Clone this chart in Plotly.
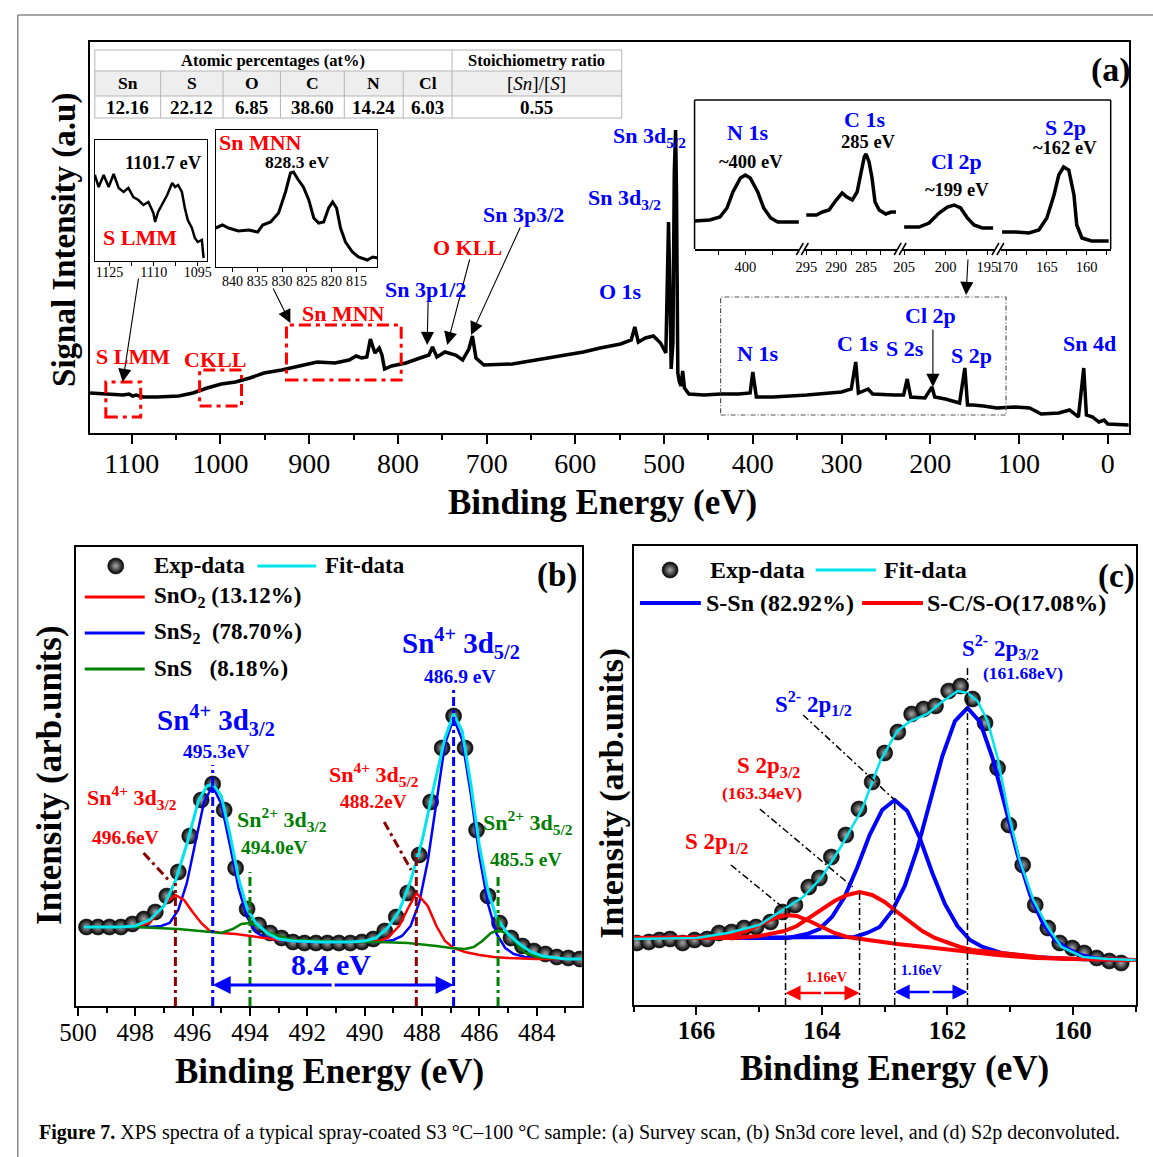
import plotly.graph_objects as go

W, H = 1153, 1157
FONT = "Liberation Serif"
BLUE, RED, GREEN, CYAN, MAROON = "#0000FF", "#FF0000", "#008000", "#00E5EE", "#8B0000"

# ---------------- panel (a): survey spectrum ----------------
survey_be = [1147, 1127, 1110, 1103, 1099, 1095, 1087, 1071, 1047, 1031,
             1015, 999, 983, 967, 951, 931, 911, 891, 871, 855,
             847, 841, 835, 831, 826, 821, 818, 815, 807, 791,
             775, 765, 761, 756, 747, 735, 727, 720, 716, 712,
             703, 671, 631, 591, 572, 549, 537, 533, 529, 521,
             512, 504, 498, 496, 495, 494, 492, 490, 488.5, 487,
             486, 484.5, 483, 481, 479, 477, 472, 455, 436, 416,
             403, 400, 396, 377, 339, 300, 289, 284, 281, 270,
             265, 241, 230, 226, 222, 206, 198, 195, 183, 167,
             161, 158, 152, 140, 125, 105, 88, 75, 55, 43,
             33, 27, 24, 17, 10, 4, 0, -24]
survey_int = [40, 39, 38, 39, 37, 38, 36, 36, 37, 40,
              45, 49, 51, 55, 60, 63, 67, 71, 70, 73,
              77, 75, 76, 94, 80, 85, 78, 64, 67, 70,
              75, 78, 86, 76, 81, 78, 73, 84, 97, 75,
              68, 69, 75, 81, 85, 89, 93, 106, 91, 95,
              97, 90, 80, 160, 211, 170, 64, 90, 260, 303,
              240, 60, 52, 47, 62, 45, 39, 38, 39, 39,
              40, 61, 36, 36, 38, 41, 44, 71, 40, 44,
              39, 38, 38, 54, 36, 35, 46, 36, 34, 30,
              65, 28, 28, 27, 25, 26, 25, 19, 20, 23,
              16, 65, 18, 16, 11, 13, 9, 8]

# inset: S LMM
slmm_be = [1130, 1128.7, 1127, 1125.3, 1123.6, 1121.9, 1120.2, 1118.6, 1116.9, 1115.2,
           1113.5, 1111.8, 1110.1, 1109.5, 1108.5, 1106.8, 1105.4, 1103.7, 1102.7, 1101.7,
           1100.4, 1099.4, 1098.4, 1097, 1096, 1095, 1093.6, 1093.3, 1093]
slmm_int = [86, 74, 86, 74, 87, 73, 69, 73, 64, 61,
            56, 59, 48, 39, 49, 59, 66, 78, 74, 76,
            69, 53, 41, 33, 23, 19, 21, 11, 3]
slmm_ticks = [1125, 1117.5, 1110, 1102.5, 1095]
slmm_ticklabels = ["1125", "", "1110", "", "1095"]

# inset: Sn MNN
snmnn_be = [843.4, 842.0, 840.8, 838.8, 836.7, 834.9, 833.9, 832.3, 830.7, 829.3,
            828.3, 827.7, 826.7, 825.7, 824.6, 823.6, 822.6, 821.6, 820.6, 819.8,
            819.0, 818.2, 817.2, 815.8, 814.6, 812.8, 811.7, 810.7]
snmnn_int = [39, 42, 39, 36, 37, 35, 42, 45, 54, 75,
             94, 95, 87, 80, 67, 49, 44, 45, 59, 65,
             59, 39, 25, 15, 10, 7, 10, 9]
snmnn_ticks = [840, 835, 830, 825, 820, 815]

# inset: high-resolution windows (broken axis)
n1s_be = [409.4, 406.6, 404.7, 403.4, 402.3, 400.9, 400.0, 399.1, 397.7, 396.6, 395.3, 394.0, 392.1, 390.1]
n1s_int = [28, 29, 32, 41, 57, 71, 74, 71, 57, 41, 31, 27, 27, 27]
c1s_be = [295.0, 293.3, 292.3, 291.2, 290.0, 289.0, 288.2, 287.3, 286.5, 285.8,
          285.3, 285.0, 284.5, 284.0, 283.5, 282.8, 281.7, 280.8, 280.0]
c1s_int = [34, 34, 37, 39, 49, 56, 52, 49, 57, 77, 92, 95, 87, 71, 47, 39, 35, 37, 37]
cl2p_be = [205.0, 203.2, 202.0, 200.8, 199.8, 199.0, 198.2, 197.4, 196.6, 195.6, 194.3]
cl2p_int = [22, 22, 26, 36, 42, 44, 41, 31, 24, 21, 21]
s2p_be = [170.6, 168.9, 167.25, 166.0, 165.0, 164.1, 163.5, 162.9, 162.25, 161.6, 161.25, 160.6, 159.4, 157.25]
s2p_int = [17, 17, 16, 19, 31, 54, 74, 82, 79, 54, 24, 11, 8, 8]
seg_ticks = [[405, 400, 395], [295, 292.5, 290, 287.5, 285, 282.5],
             [205, 202.5, 200, 197.5, 195], [170, 167.5, 165, 162.5, 160, 157.5]]
seg_ticklabels = [["", "400", ""], ["295", "", "290", "", "285", ""],
                  ["205", "", "200", "", "195"], ["170", "", "165", "", "160", ""]]

# table
table_elements = ["Sn", "S", "O", "C", "N", "Cl"]
table_atomic = ["12.16", "22.12", "6.85", "38.60", "14.24", "6.03"]
table_ratio = "0.55"

# ---------------- panel (b): Sn 3d ----------------
exp_b_be = [499.7, 499.3, 498.9, 498.5, 498.1, 497.7, 497.3, 496.9, 496.5, 496.1,
            495.7, 495.3, 494.9, 494.5, 494.1, 493.7, 493.3, 492.9, 492.5, 492.1,
            491.7, 491.3, 490.9, 490.5, 490.1, 489.7, 489.3, 488.9, 488.5, 488.1,
            487.7, 487.3, 486.9, 486.5, 486.1, 485.7, 485.3, 484.9, 484.5, 484.1,
            483.7, 483.3, 482.9, 482.5]
exp_b_int = [79, 79, 79, 79, 82, 87, 94, 110, 134, 170,
             206, 222, 196, 138, 97, 81, 73, 68, 64, 63,
             63, 63, 63, 63, 64, 67, 75, 89, 113, 151,
             204, 258, 290, 258, 176, 110, 83, 68, 60, 55,
             52, 49, 48, 47]
fit_b_be = [499.8, 498.5, 498.0, 497.5, 497.0, 496.6, 496.2, 495.8, 495.5, 495.3,
            495.0, 494.7, 494.4, 494.1, 493.8, 493.4, 493.0, 492.5, 491.5, 490.5,
            490.0, 489.6, 489.2, 488.8, 488.4, 488.0, 487.6, 487.2, 486.9, 486.6,
            486.3, 486.0, 485.7, 485.4, 485.0, 484.6, 484.2, 483.8, 483.0, 482.4]
fit_b_int = [79, 79, 80, 86, 100, 125, 162, 205, 220, 222,
             210, 172, 128, 97, 83, 73, 67, 65, 64, 64,
             65, 68, 78, 95, 125, 165, 218, 268, 292, 275,
             222, 160, 115, 88, 72, 62, 54, 50, 47, 47]
sns2_be = [499.8, 498.5, 497.5, 497.1, 496.8, 496.5, 496.2, 495.9, 495.6, 495.3,
           495.0, 494.7, 494.4, 494.1, 493.8, 493.5, 493.1, 492.0, 491.0, 490.0,
           489.4, 489.0, 488.7, 488.4, 488.1, 487.8, 487.5, 487.2, 486.9, 486.6,
           486.3, 486.0, 485.7, 485.4, 485.1, 484.8, 484.4, 483.5, 482.4]
sns2_int = [79, 79, 79, 80, 83, 96, 123, 164, 204, 220,
            202, 161, 118, 89, 74, 69, 66, 64, 64, 64,
            64, 66, 70, 80, 103, 145, 205, 262, 288, 266,
            212, 150, 102, 72, 58, 52, 49, 47, 47]
sno2_be = [499.8, 498.5, 498.0, 497.5, 497.2, 496.9, 496.6, 496.3, 496.0, 495.7,
           495.4, 495.0, 494.5, 494.0, 493.0, 492.0, 491.0, 490.0, 489.5, 489.2,
           488.8, 488.5, 488.2, 487.8, 487.5, 487.2, 486.9, 486.5, 486.0, 485.5,
           485.0, 484.0, 483.0, 482.4]
sno2_int = [79, 79, 79, 83, 93, 104, 111, 106, 94, 83,
            75, 73, 72, 70, 66, 65, 64, 64, 65, 68,
            80, 97, 113, 100, 80, 65, 58, 54, 51, 49,
            48, 47, 47, 47]
sns_be = [499.8, 498.0, 496.5, 495.5, 495.0, 494.6, 494.3, 494.0, 493.7, 493.4,
          493.0, 492.5, 491.5, 490.5, 489.5, 488.5, 487.5, 487.0, 486.5, 486.2,
          485.9, 485.6, 485.35, 485.0, 484.7, 484.4, 484.0, 483.0, 482.4]
sns_int = [79, 79, 77, 74, 73, 77, 82, 83, 80, 74,
           70, 66, 65, 64, 64, 63, 60, 58, 57, 59,
           65, 73, 76, 72, 62, 53, 49, 47, 47]
b_mark_be = [496.6, 495.3, 494.0, 488.2, 486.9, 485.35]
b_mark_top = [123, 241, 134, 159, 316, 129]

# ---------------- panel (c): S 2p ----------------
exp_c_be = [166.95, 166.76, 166.59, 166.42, 166.22, 166.03, 165.83, 165.64, 165.44, 165.24,
            165.05, 164.82, 164.63, 164.43, 164.21, 164.04, 163.85, 163.62, 163.41, 163.20,
            163.00, 162.79, 162.57, 162.38, 162.19, 161.98, 161.79, 161.60, 161.40, 161.20,
            161.02, 160.80, 160.60, 160.40, 160.21, 160.01, 159.82, 159.62, 159.42, 159.23]
exp_c_int = [62, 63, 65, 66, 62, 65, 66, 72, 73, 77,
             78, 83, 93, 100, 118, 127, 148, 170, 196, 223,
             252, 273, 291, 296, 299, 314, 319, 306, 282, 237,
             180, 140, 100, 77, 62, 57, 52, 47, 44, 42]
fit_c_be = [167.0, 166.0, 165.5, 165.0, 164.6, 164.3, 164.0, 163.7, 163.36, 163.07,
            162.80, 162.59, 162.32, 162.11, 161.84, 161.68, 161.52, 161.36, 161.20, 161.02,
            160.85, 160.63, 160.40, 160.18, 159.84, 159.45, 159.0]
fit_c_int = [66, 67, 72, 80, 96, 108, 128, 158, 196, 244,
             274, 284, 291, 302, 314, 312, 304, 284, 247, 190,
             145, 105, 78, 58, 48, 46, 45]
ssn32_be = [167.0, 164.5, 163.68, 163.48, 163.28, 163.08, 162.88, 162.68, 162.48, 162.28,
            162.08, 161.88, 161.68, 161.48, 161.28, 161.08, 160.88, 160.68, 160.48, 160.28,
            160.08, 159.88, 159.68, 159.3, 159.0]
ssn32_int = [67, 67, 67, 68, 72, 78, 94, 119, 156, 203,
             249, 284, 297, 283, 247, 199, 150, 110, 82, 65,
             56, 50, 47, 45, 45]
ssn12_be = [167.0, 164.54, 164.24, 164.04, 163.84, 163.64, 163.44, 163.24, 163.04, 162.84,
            162.64, 162.44, 162.24, 162.04, 161.84, 161.64, 161.44, 161.14, 160.6, 160.0, 159.0]
ssn12_int = [67, 67, 71, 76, 88, 108, 137, 170, 195, 205,
             194, 167, 132, 101, 79, 65, 58, 52, 48, 46, 45]
sc32_be = [167.0, 165.8, 165.4, 165.0, 164.8, 164.6, 164.4, 164.2, 164.0, 163.8,
           163.6, 163.4, 163.2, 163.0, 162.8, 162.6, 162.4, 162.2, 162.0, 161.8,
           161.6, 161.2, 160.8, 160.4, 160.0, 159.5, 159.0]
sc32_int = [67, 67, 67, 69, 71, 74, 79, 87, 95, 104,
            110, 113, 110, 103, 93, 83, 74, 67, 62, 58,
            55, 52, 49, 47, 46, 45, 45]
sc12_be = [167.0, 166.0, 165.6, 165.4, 165.2, 165.0, 164.8, 164.58, 164.4, 164.2,
           164.0, 163.8, 163.6, 163.4, 162.8, 162.2, 161.7, 161.2, 160.6, 160.0, 159.0]
sc12_int = [67, 67, 68, 70, 74, 80, 86, 90, 89, 84,
            78, 72, 68, 66, 61, 57, 53, 50, 47, 46, 45]
c_mark_be = [164.58, 163.40, 162.84, 161.68]
c_mark_top = [98, 113, 205, 337]

# =====================================================================
# the capture maps page x to picture x as about 16 + 0.983*x; positions below are
# given in picture pixels and converted back to page fractions here
X_OFF, X_SCALE = 16.0, 0.983


def fx(px):
    return max((px - X_OFF) / X_SCALE, 0.75) / W


def fy(py):
    return 1 - py / H


AX = {"a": ("x", "y"), "slmm": ("x2", "y2"), "snmnn": ("x3", "y3"),
      "s1": ("x4", "y4"), "s2": ("x5", "y5"), "s3": ("x6", "y6"), "s4": ("x7", "y7"),
      "b": ("x8", "y8"), "c": ("x9", "y9")}

fig = go.Figure()
annotations = []
shapes = []


def trace_line(p, x, y, color, width, dash=None):
    xa, ya = AX[p]
    fig.add_trace(go.Scatter(x=x, y=y, xaxis=xa, yaxis=ya, mode="lines",
                             line=dict(color=color, width=width, dash=dash),
                             hoverinfo="skip", showlegend=False))


def trace_dots(p, x, y, size):
    xa, ya = AX[p]
    fig.add_trace(go.Scatter(x=x, y=y, xaxis=xa, yaxis=ya, mode="markers",
                             marker=dict(size=size, color="black",
                                         line=dict(color="#111111", width=0.6),
                                         gradient=dict(type="radial", color="#a8a8a8")),
                             hoverinfo="skip", showlegend=False))


def text(p, x, y, s, size, color="black", bold=True, xanchor="center", angle=0):
    if p == "paper":
        xr, yr, x, y = "paper", "paper", fx(x), fy(y)
    else:
        xr, yr = AX[p]
    annotations.append(dict(x=x, y=y, xref=xr, yref=yr, showarrow=False,
                            text=("<b>%s</b>" % s) if bold else s,
                            font=dict(family=FONT, size=size, color=color),
                            xanchor=xanchor, yanchor="middle", textangle=angle))


def arrow(p, x0, y0, x1, y1, color, width, size):
    xr, yr = AX[p]
    annotations.append(dict(x=x1, y=y1, ax=x0, ay=y0, xref=xr, yref=yr, axref=xr, ayref=yr,
                            text="", showarrow=True, arrowhead=2, arrowsize=size,
                            arrowwidth=width, arrowcolor=color, standoff=0, startstandoff=0))


def pline(x0, y0, x1, y1, color, width, dash=None):
    shapes.append(dict(type="line", xref="paper", yref="paper", x0=fx(x0), y0=fy(y0),
                       x1=fx(x1), y1=fy(y1), line=dict(color=color, width=width, dash=dash)))


def drect(p, x0, y0, x1, y1, color, width, dash):
    xr, yr = AX[p]
    shapes.append(dict(type="rect", xref=xr, yref=yr, x0=x0, y0=y0, x1=x1, y1=y1,
                       line=dict(color=color, width=width, dash=dash),
                       fillcolor="rgba(0,0,0,0)"))


def dom_x(a, b):
    return [fx(a), min(fx(b), 1.0)]


def dom_y(top, bottom):
    return [fy(bottom), fy(top)]


frame = dict(showgrid=False, zeroline=False, showline=True, linecolor="black", mirror=True)
layout = dict(width=W, height=H, margin=dict(l=0, r=0, t=0, b=0),
              paper_bgcolor="white", plot_bgcolor="white", showlegend=False,
              font=dict(family=FONT, color="black"))

# ---------------- axes ----------------
layout["xaxis"] = dict(domain=dom_x(89, 1130), range=[1147.2, -23.6], anchor="y", linewidth=2,
                       ticks="outside", ticklen=9, tickwidth=2, tickcolor="black", tick0=0, dtick=100,
                       minor=dict(tick0=0, dtick=50, ticks="outside", ticklen=5, tickwidth=2,
                                  tickcolor="black"),
                       tickfont=dict(family=FONT, size=28, color="black"), ticklabelstandoff=-5, **frame)
layout["yaxis"] = dict(domain=dom_y(42, 433), range=[0, 391], anchor="x", linewidth=2,
                       showticklabels=False, ticks="", **frame)

layout["xaxis2"] = dict(domain=dom_x(94, 206), range=[1130, 1092], anchor="y2", linewidth=1.3,
                        tickmode="array", tickvals=slmm_ticks, ticktext=slmm_ticklabels,
                        ticks="outside", ticklen=4, tickwidth=1, tickcolor="black",
                        tickfont=dict(family=FONT, size=14, color="black"), ticklabelstandoff=-6, **frame)
layout["yaxis2"] = dict(domain=dom_y(140, 261), range=[0, 121], anchor="x2", linewidth=1.3,
                        showticklabels=False, ticks="", **frame)

layout["xaxis3"] = dict(domain=dom_x(215, 377), range=[843.4, 810.8], anchor="y3", linewidth=1.3,
                        tickmode="array", tickvals=snmnn_ticks, ticktext=[str(t) for t in snmnn_ticks],
                        ticks="outside", ticklen=4, tickwidth=1, tickcolor="black",
                        tickfont=dict(family=FONT, size=14, color="black"), ticklabelstandoff=-3, **frame)
layout["yaxis3"] = dict(domain=dom_y(130, 267), range=[0, 137], anchor="x3", linewidth=1.3,
                        showticklabels=False, ticks="", **frame)

seg_px = [(695, 800), (805, 898), (903, 995), (1002, 1112)]
seg_ranges = [[409.4, 390.0], [295.33, 279.8], [205.24, 194.2], [170.75, 157.0]]
for i in range(4):
    n = str(i + 4)
    layout["xaxis" + n] = dict(domain=dom_x(*seg_px[i]), range=seg_ranges[i], anchor="y" + n,
                               showgrid=False, zeroline=False, showline=True, linecolor="black",
                               linewidth=1.5, mirror=False, tickmode="array", tickvals=seg_ticks[i],
                               ticktext=seg_ticklabels[i], ticks="outside", ticklen=4, tickwidth=1,
                               tickcolor="black", tickfont=dict(family=FONT, size=14.5, color="black"),
                               ticklabelstandoff=0)
    layout["yaxis" + n] = dict(domain=dom_y(100, 249), range=[0, 149], anchor="x" + n, visible=False)

layout["xaxis8"] = dict(domain=dom_x(75, 582), range=[500.07, 482.43], anchor="y8", linewidth=2,
                        ticks="outside", ticklen=8, tickwidth=2, tickcolor="black", tick0=0, dtick=2,
                        minor=dict(tick0=0, dtick=1, ticks="outside", ticklen=5, tickwidth=2,
                                   tickcolor="black"),
                        tickfont=dict(family=FONT, size=25, color="black"), ticklabelstandoff=-5, **frame)
layout["yaxis8"] = dict(domain=dom_y(547, 1006), range=[0, 459], anchor="x8", linewidth=2,
                        showticklabels=False, ticks="", **frame)

layout["xaxis9"] = dict(domain=dom_x(634, 1137), range=[167.0, 159.0], anchor="y9", linewidth=2,
                        ticks="outside", ticklen=8, tickwidth=2, tickcolor="black", tick0=0, dtick=2,
                        minor=dict(tick0=0, dtick=1, ticks="outside", ticklen=5, tickwidth=2,
                                   tickcolor="black"),
                        tickfont=dict(family=FONT, size=25, color="black", weight="bold"),
                        ticklabelstandoff=-6, **frame)
layout["yaxis9"] = dict(domain=dom_y(546, 1005), range=[0, 459], anchor="x9", linewidth=2,
                        showticklabels=False, ticks="", **frame)

# ---------------- panel (a) marks ----------------
trace_line("a", survey_be, survey_int, "black", 3.5)
trace_line("slmm", slmm_be, slmm_int, "black", 2.5)
trace_line("snmnn", snmnn_be, snmnn_int, "black", 3)
trace_line("s1", n1s_be, n1s_int, "black", 3.5)
trace_line("s2", c1s_be, c1s_int, "black", 3.5)
trace_line("s3", cl2p_be, cl2p_int, "black", 3.5)
trace_line("s4", s2p_be, s2p_int, "black", 3.5)

RDASH = "12px,5px,4px,5px"
drect("a", 1129.2, 16, 1089.9, 51, RED, 3, RDASH)
drect("a", 1023.5, 27, 976.3, 63, RED, 3, RDASH)
drect("a", 925.6, 53, 796.3, 108, RED, 3, RDASH)
drect("a", 436.3, 18, 114.6, 136, "#555555", 1.2, "5px,2px,1px,2px")

arrow("a", 1092.1, 156, 1110.1, 51, "black", 1.1, 2.4)
arrow("a", 941.4, 146, 921.2, 110, "black", 1.1, 2.4)
arrow("a", 765.9, 133, 767.0, 88, "black", 1.1, 2.4)
arrow("a", 718.7, 175, 744.4, 88, "black", 1.1, 2.4)
arrow("a", 661.3, 207, 717.6, 98, "black", 1.1, 2.4)
arrow("a", 197.0, 105, 197.0, 46, "black", 1.1, 2.4)
arrow("a", 157.4, 175, 159.6, 138, "black", 1.1, 2.4)

text("a", -3.4, 363, "(a)", 34)
text("a", 516.2, 296, "Sn 3d<sub>5/2</sub>", 22, BLUE)
text("a", 544.3, 234, "Sn 3d<sub>3/2</sub>", 22, BLUE)
text("a", 657.9, 219, "Sn 3p3/2", 22, BLUE)
text("a", 722.1, 186, "O KLL", 22, RED)
text("a", 769.3, 144, "Sn 3p1/2", 22, BLUE)
text("a", 548.8, 142, "O 1s", 22, BLUE)
text("a", 861.5, 120, "Sn MNN", 22, RED)
text("a", 1098.9, 77, "S LMM", 22, RED)
text("a", 1006.6, 74, "CKLL", 22, RED)
text("a", 394.7, 80, "N 1s", 22, BLUE)
text("a", 282.3, 90, "C 1s", 22, BLUE)
text("a", 228.3, 85, "S 2s", 22, BLUE)
text("a", 200.1, 118, "Cl 2p", 22, BLUE)
text("a", 154.0, 78, "S 2p", 22, BLUE)
text("a", 20.1, 90, "Sn 4d", 22, BLUE)

# inset texts
text("paper", 163, 163, "1101.7 eV", 18.5)
text("paper", 139, 238, "S LMM", 22, RED)
text("paper", 260, 143, "Sn MNN", 22, RED)
text("paper", 297, 162, "828.3 eV", 17.5)
text("paper", 748, 133, "N 1s", 22, BLUE)
text("paper", 752, 162, "~400 eV", 18.5)
text("paper", 865, 120, "C 1s", 22, BLUE)
text("paper", 869, 142, "285 eV", 18.5)
text("paper", 957, 162, "Cl 2p", 22, BLUE)
text("paper", 958, 190, "~199 eV", 18.5)
text("paper", 1067, 127, "S 2p", 22, BLUE)
text("paper", 1066, 148, "~162 eV", 18.5)

# broken-axis inset frame and break marks
pline(695, 100, 1112, 100, "black", 1.5)
pline(695, 100, 695, 249, "black", 1.5)
pline(1112, 100, 1112, 249, "black", 1.5)
for gx in (797, 895, 993):
    pline(gx, 255, gx + 7, 243, "black", 1.5)
    pline(gx + 5, 255, gx + 12, 243, "black", 1.5)

# table
tx = [94, 160, 222.5, 280, 344, 403, 452, 622]
ty = [50, 71, 96, 118]
shapes.append(dict(type="rect", xref="paper", yref="paper", x0=fx(tx[0]), x1=fx(tx[-1]),
                   y0=fy(ty[2]), y1=fy(ty[1]), fillcolor="#eeeeee", line=dict(width=0)))
GRID = "#b5b5b5"
for yy in ty:
    pline(tx[0], yy, tx[-1], yy, GRID, 1)
pline(tx[0], ty[0], tx[0], ty[-1], GRID, 1)
pline(tx[-1], ty[0], tx[-1], ty[-1], GRID, 1)
pline(tx[6], ty[0], tx[6], ty[-1], GRID, 1)
for i in range(1, 6):
    pline(tx[i], ty[1], tx[i], ty[-1], GRID, 1)
text("paper", (tx[0] + tx[6]) / 2, (ty[0] + ty[1]) / 2, "Atomic percentages (at%)", 16.5)
text("paper", (tx[6] + tx[7]) / 2, (ty[0] + ty[1]) / 2, "Stoichiometry ratio", 16.5)
for i in range(6):
    text("paper", (tx[i] + tx[i + 1]) / 2, (ty[1] + ty[2]) / 2, table_elements[i], 17.5)
    text("paper", (tx[i] + tx[i + 1]) / 2, (ty[2] + ty[3]) / 2, table_atomic[i], 19)
text("paper", (tx[6] + tx[7]) / 2, (ty[1] + ty[2]) / 2, "[<i>Sn</i>]/[<i>S</i>]", 19, bold=False)
text("paper", (tx[6] + tx[7]) / 2, (ty[2] + ty[3]) / 2, table_ratio, 19)

# ---------------- panel (b) ----------------
trace_dots("b", exp_b_be, exp_b_int, 16)
trace_line("b", sns2_be, sns2_int, BLUE, 2.5)
trace_line("b", sno2_be, sno2_int, RED, 2.5)
trace_line("b", sns_be, sns_int, GREEN, 2.5)
trace_line("b", fit_b_be, fit_b_int, CYAN, 3)
b_mark_colors = [MAROON, BLUE, GREEN, MAROON, BLUE, GREEN]
for be, top, col in zip(b_mark_be, b_mark_top, b_mark_colors):
    trace_line("b", [be, be], [0, top], col, 3, "9px,4px,3px,4px")
trace_line("b", [497.71, 496.84], [153, 126], MAROON, 3, "9px,4px,3px,4px")
trace_line("b", [489.32, 488.38], [184, 136], MAROON, 3, "9px,4px,3px,4px")
arrow("b", 491.1, 21, 495.3, 21, BLUE, 3, 1.2)
arrow("b", 491.1, 21, 486.9, 21, BLUE, 3, 1.2)

# legend (b)
trace_dots("b", [498.68], [440], 16)
trace_line("b", [493.74, 491.69], [440, 440], CYAN, 3)
trace_line("b", [499.76, 497.67], [409, 409], RED, 3)
trace_line("b", [499.76, 497.67], [373, 373], BLUE, 3)
trace_line("b", [499.76, 497.67], [337, 337], GREEN, 3)
text("b", 497.43, 440, "Exp-data", 23, xanchor="left")
text("b", 491.44, 440, "Fit-data", 23, xanchor="left")
text("b", 497.43, 409, "SnO<sub>2</sub> (13.12%)", 23, xanchor="left")
text("b", 497.43, 373, "SnS<sub>2</sub>\u00a0\u00a0(78.70%)", 23, xanchor="left")
text("b", 497.43, 337, "SnS\u00a0\u00a0\u00a0(8.18%)", 23, xanchor="left")
text("b", 483.3, 430, "(b)", 33)

text("b", 486.64, 363, "Sn<sup>4+</sup> 3d<sub>5/2</sub>", 29, BLUE)
text("b", 486.68, 329, "486.9 eV", 19.5, BLUE)
text("b", 495.17, 286, "Sn<sup>4+</sup> 3d<sub>3/2</sub>", 29, BLUE)
text("b", 495.17, 254, "495.3eV", 19.5, BLUE)
text("b", 498.12, 208, "Sn<sup>4+</sup> 3d<sub>3/2</sub>", 22, RED)
text("b", 498.33, 168, "496.6eV", 19.5, RED)
text("b", 492.90, 186, "Sn<sup>2+</sup> 3d<sub>3/2</sub>", 22, GREEN)
text("b", 493.13, 158, "494.0eV", 19.5, GREEN)
text("b", 489.67, 231, "Sn<sup>4+</sup> 3d<sub>5/2</sub>", 22, RED)
text("b", 489.70, 204, "488.2eV", 19.5, RED)
text("b", 484.31, 183, "Sn<sup>2+</sup> 3d<sub>5/2</sub>", 22, GREEN)
text("b", 484.38, 146, "485.5 eV", 19.5, GREEN)
text("b", 491.17, 41, "8.4 eV", 30, BLUE)

# ---------------- panel (c) ----------------
trace_dots("c", exp_c_be, exp_c_int, 16)
trace_line("c", ssn32_be, ssn32_int, BLUE, 4)
trace_line("c", ssn12_be, ssn12_int, BLUE, 4)
trace_line("c", sc32_be, sc32_int, RED, 4)
trace_line("c", sc12_be, sc12_int, RED, 4)
trace_line("c", fit_c_be, fit_c_int, CYAN, 2.5)
KDASH = "7px,3px,2px,3px"
for be, top in zip(c_mark_be, c_mark_top):
    trace_line("c", [be, be], [0, top], "black", 1.5, KDASH)
trace_line("c", [165.45, 164.63], [140, 98], "black", 1.5, KDASH)
trace_line("c", [164.99, 163.51], [196, 118], "black", 1.5, KDASH)
trace_line("c", [164.30, 162.84], [290, 205], "black", 1.5, KDASH)
arrow("c", 163.99, 12, 164.58, 12, RED, 2.5, 1.2)
arrow("c", 163.99, 12, 163.40, 12, RED, 2.5, 1.2)
arrow("c", 162.26, 13, 162.84, 13, BLUE, 2.5, 1.2)
arrow("c", 162.26, 13, 161.68, 13, BLUE, 2.5, 1.2)

trace_dots("c", [166.42], [435], 16)
trace_line("c", [164.10, 163.14], [435, 435], CYAN, 3)
trace_line("c", [166.90, 165.93], [402, 402], BLUE, 4)
trace_line("c", [163.36, 162.39], [402, 402], RED, 4)
text("c", 165.81, 435, "Exp-data", 24, xanchor="left")
text("c", 163.05, 435, "Fit-data", 24, xanchor="left")
text("c", 165.88, 402, "S-Sn (82.92%)", 24, xanchor="left")
text("c", 162.36, 402, "S-C/S-O(17.08%)", 24, xanchor="left")
text("c", 159.30, 429, "(c)", 33)

text("c", 161.15, 358, "S<sup>2-</sup> 2p<sub>3/2</sub>", 23, BLUE)
text("c", 160.80, 332, "(161.68eV)", 17.5, BLUE)
text("c", 164.13, 302, "S<sup>2-</sup> 2p<sub>1/2</sub>", 23, BLUE)
text("c", 164.85, 238, "S 2p<sub>3/2</sub>", 23, RED)
text("c", 164.95, 212, "(163.34eV)", 17.5, RED)
text("c", 165.68, 162, "S 2p<sub>1/2</sub>", 23, RED)
text("c", 163.93, 28, "1.16eV", 14, RED)
text("c", 162.42, 35, "1.16eV", 14, BLUE)

# ---------------- titles, caption, outer frame ----------------
text("paper", 603, 502, "Binding Energy (eV)", 35)
text("paper", 63, 240, "Signal Intensity (a.u)", 33, angle=-90)
text("paper", 329, 1071, "Binding Energy (eV)", 35)
text("paper", 48, 775, "Intensity (arb.units)", 35, angle=-90)
text("paper", 895, 1068, "Binding Energy (eV)", 35)
text("paper", 612, 793, "Intensity (arb.units)", 34, angle=-90)
annotations.append(dict(x=fx(36), y=fy(1132), xref="paper", yref="paper", showarrow=False,
                        xanchor="left", yanchor="middle",
                        text="<b>Figure 7.</b> XPS spectra of a typical spray-coated S3 \u00b0C\u2013100 \u00b0C "
                             "sample: (a) Survey scan, (b) Sn3d core level, and (d) S2p deconvoluted.",
                        font=dict(family=FONT, size=20, color="black")))
pline(8, 15, 1160, 15, "#8a8a8a", 1.5)
pline(8, 15, 8, 1157, "#8a8a8a", 1.5)

layout["annotations"] = annotations
layout["shapes"] = shapes
fig.update_layout(**layout)
fig.write_html("out.html", config={"displayModeBar": False},
               post_script="document.body.style.margin='0px';"
                           "document.documentElement.style.overflow='hidden';")
